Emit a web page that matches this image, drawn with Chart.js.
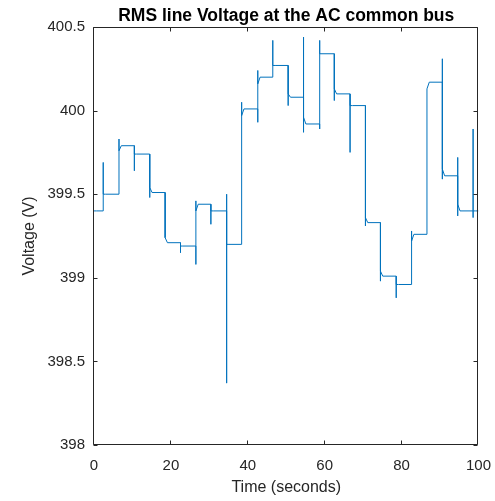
<!DOCTYPE html>
<html>
<head>
<meta charset="utf-8">
<script src="https://cdn.jsdelivr.net/npm/chart.js@4/dist/chart.umd.min.js"></script>
<style>
  html, body { margin: 0; padding: 0; background: #ffffff; }
  #wrap { width: 495px; height: 501px; }
</style>
</head>
<body>
<div id="wrap"><canvas id="c" width="495" height="501"></canvas></div>
<script>
// ---- Data ----
const chartTitle = "RMS line Voltage at the AC common bus";
const xTitle = "Time (seconds)";
const yTitle = "Voltage (V)";
const xTicks = [0, 20, 40, 60, 80, 100];
const yTicks = [398, 398.5, 399, 399.5, 400, 400.5];
const endTime = 100;

// switching instants (s)
const switchTimes = [0, 2.4, 6.5, 10.5, 14.5, 18.5, 22.5, 26.5, 30.4, 34.5, 38.4, 42.6, 46.5,
                     50.5, 54.5, 58.7, 62.5, 66.6, 70.6, 74.5, 78.6, 82.6, 86.6, 90.6, 94.6, 98.6];
// settled level after each switch (V)
const levels = [399.40, 399.50, 399.79, 399.74, 399.51, 399.21, 399.19, 399.44, 399.40, 399.20, 400.01, 400.20, 400.27,
                400.08, 399.92, 400.34, 400.10, 400.03, 399.33, 399.01, 398.96, 399.26, 400.17, 399.61, 399.40, 399.40];
// value right after the switch, before settling (V)
const stepStart = [399.40, 399.50, 399.76, 399.74, 399.54, 399.24, 399.19, 399.40, 399.40, 399.20, 399.97, 400.16, 400.27,
                   400.10, 399.96, 400.34, 400.13, 400.03, 399.36, 399.04, 398.96, 399.22, 400.13, 399.65, 399.44, 399.40];
// transient spike peaks at each switch (V), null = none
const spikeHigh = [null, 399.69, 399.83, null, null, null, null, 399.46, null, 399.50, 400.05, 400.24, 400.42,
                   null, 400.44, 400.42, null, null, null, null, null, 399.28, null, 400.31, 399.72, 399.89];
const spikeLow = [null, null, null, 399.64, 399.48, null, 399.15, 399.08, 399.32, 398.37, null, 399.93, null,
                  400.03, 399.87, 399.89, 400.06, 399.75, 399.31, 398.98, 398.88, null, null, 399.59, 399.37, 399.36];
const settleTime = 0.6;

// ---- Build the series points from the arrays ----
const points = [];
for (let i = 0; i < switchTimes.length; i++) {
  const t = switchTimes[i];
  if (i > 0) points.push({ x: t, y: levels[i - 1] });
  if (spikeHigh[i] !== null) points.push({ x: t, y: spikeHigh[i] });
  if (spikeLow[i] !== null) points.push({ x: t, y: spikeLow[i] });
  points.push({ x: t, y: stepStart[i] });
  points.push({ x: t + settleTime, y: levels[i] });
}
points.push({ x: endTime, y: levels[levels.length - 1] });

const axisColor = '#262626';
const fontFamily = "'Liberation Sans', Arial, Helvetica, sans-serif";

const framePlugin = {
  id: 'matlabFrame',
  afterDraw(chart) {
    const ctx = chart.ctx;
    const a = chart.chartArea;
    const xs = chart.scales.x, ys = chart.scales.y;
    const L = Math.round(a.left) - 0.5, R = Math.round(a.right) - 0.5;
    const T = Math.round(a.top) + 0.5, B = Math.round(a.bottom) - 0.5;
    ctx.save();
    ctx.strokeStyle = axisColor;
    ctx.lineWidth = 1;
    ctx.beginPath();
    ctx.rect(L, T, R - L, B - T);
    const tl = 4;
    xTicks.forEach(v => {
      const px = Math.round(xs.getPixelForValue(v)) - 0.5;
      ctx.moveTo(px, B); ctx.lineTo(px, B - tl);
      ctx.moveTo(px, T); ctx.lineTo(px, T + tl);
    });
    yTicks.forEach(v => {
      const py = Math.round(ys.getPixelForValue(v)) + 0.5;
      ctx.moveTo(L, py); ctx.lineTo(L + tl, py);
      ctx.moveTo(R, py); ctx.lineTo(R - tl, py);
    });
    ctx.stroke();
    // title centred on the axes
    ctx.fillStyle = '#000000';
    ctx.font = "bold 17.5px " + fontFamily;
    ctx.textAlign = 'center';
    ctx.textBaseline = 'alphabetic';
    ctx.fillText(chartTitle, (a.left + a.right) / 2, 20.5);
    ctx.restore();
  }
};

new Chart(document.getElementById('c'), {
  type: 'line',
  data: {
    datasets: [{
      data: points,
      borderColor: '#0072BD',
      borderWidth: 1,
      pointRadius: 0,
      fill: false,
      tension: 0
    }]
  },
  options: {
    responsive: false,
    animation: false,
    layout: { padding: { left: 16, right: 8, top: 27, bottom: 0 } },
    plugins: {
      legend: { display: false },
      title: { display: false },
      tooltip: { enabled: false }
    },
    scales: {
      x: {
        type: 'linear',
        min: 0, max: 100,
        grid: { display: false },
        border: { display: false },
        afterFit(s) { s.height = 56; },
        afterBuildTicks(s) { s.ticks = xTicks.map(v => ({ value: v })); },
        ticks: {
          color: axisColor, padding: 4, maxRotation: 0, autoSkip: false,
          font: { family: fontFamily, size: 15 },
          callback: v => String(v)
        },
        title: {
          display: true, text: xTitle, color: axisColor,
          font: { family: fontFamily, size: 16 }, padding: { top: 4, bottom: 4 }
        }
      },
      y: {
        type: 'linear',
        min: 398, max: 400.5,
        grid: { display: false },
        border: { display: false },
        afterFit(s) { s.width = 78; },
        afterBuildTicks(s) { s.ticks = yTicks.map(v => ({ value: v })); },
        ticks: {
          color: axisColor, padding: 1, autoSkip: false,
          font: { family: fontFamily, size: 15 },
          callback: v => String(v)
        },
        title: {
          display: true, text: yTitle, color: axisColor,
          font: { family: fontFamily, size: 16 }, padding: { top: 4, bottom: 4 }
        }
      }
    }
  },
  plugins: [framePlugin]
});
</script>
</body>
</html>
